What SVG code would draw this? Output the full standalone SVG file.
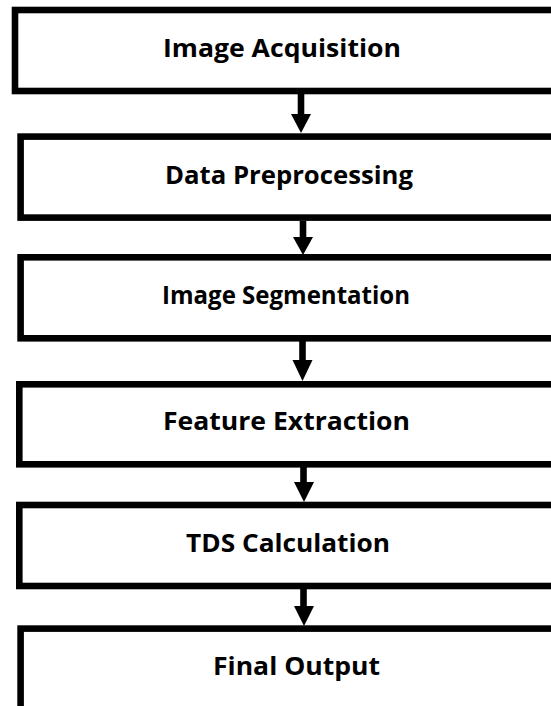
<svg xmlns="http://www.w3.org/2000/svg" width="551" height="706" viewBox="0 0 551 706">
<style>
.box{fill:#fff;stroke:#000;stroke-width:6.6}
.lbl{font-family:"Open Sans","Liberation Sans",sans-serif;font-weight:700;font-size:25px;fill:#000;text-anchor:middle}
.shaft{stroke:#000;stroke-width:6.6;fill:none}
.head{fill:#000}
</style>
<rect width="551" height="706" fill="#fff"/>
<g id="n1"><rect class="box" x="15" y="10" width="600" height="81"/><text class="lbl" x="282" y="57" textLength="238" lengthAdjust="spacingAndGlyphs">Image Acquisition</text></g>
<g id="n2"><rect class="box" x="20.6" y="136.6" width="600" height="81"/><text class="lbl" x="289" y="184" textLength="248" lengthAdjust="spacingAndGlyphs">Data Preprocessing</text></g>
<g id="n3"><rect class="box" x="20.6" y="257.3" width="600" height="81"/><text class="lbl" x="286" y="304" textLength="248" lengthAdjust="spacingAndGlyphs">Image Segmentation</text></g>
<g id="n4"><rect class="box" x="19.3" y="384.3" width="600" height="80"/><text class="lbl" x="286.5" y="430" textLength="247" lengthAdjust="spacingAndGlyphs">Feature Extraction</text></g>
<g id="n5"><rect class="box" x="19.3" y="505" width="600" height="81"/><text class="lbl" x="288" y="552" textLength="204" lengthAdjust="spacingAndGlyphs">TDS Calculation</text></g>
<g id="n6"><rect class="box" x="20.6" y="628.6" width="600" height="100"/><text class="lbl" x="296.5" y="675" textLength="167" lengthAdjust="spacingAndGlyphs">Final Output</text></g>
<g id="connectors">
<line class="shaft" x1="301" y1="94" x2="301" y2="115"/><path class="head" d="M291 114 L311 114 L301 133 Z"/>
<line class="shaft" x1="303" y1="221" x2="303" y2="238"/><path class="head" d="M293 237 L313 237 L303 255 Z"/>
<line class="shaft" x1="302.5" y1="341" x2="302.5" y2="361"/><path class="head" d="M292.5 360 L312.5 360 L302.5 381 Z"/>
<line class="shaft" x1="303.5" y1="467" x2="303.5" y2="483"/><path class="head" d="M294 482 L314 482 L304 502 Z"/>
<line class="shaft" x1="303.5" y1="589" x2="303.5" y2="607"/><path class="head" d="M294 606 L314 606 L304 626 Z"/>
</g>
</svg>
